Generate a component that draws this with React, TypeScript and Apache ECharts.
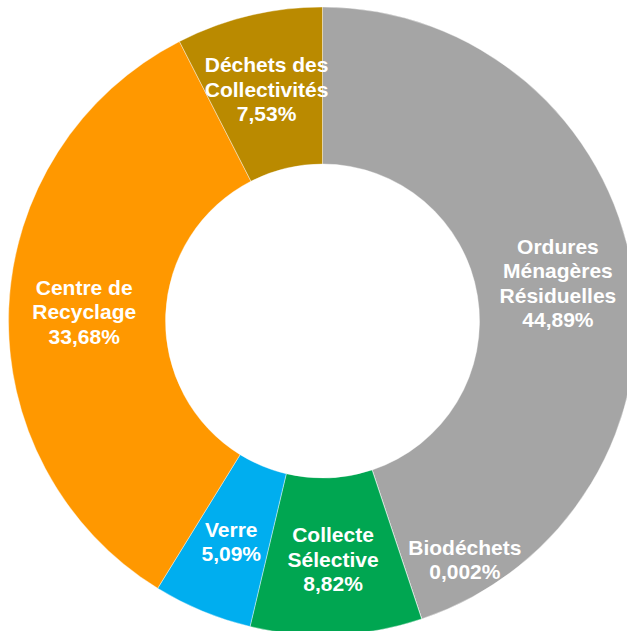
import React, { useEffect, useRef } from "react";
import * as echarts from "echarts";

const categories = [
  "Ordures\nMénagères\nRésiduelles",
  "Biodéchets",
  "Collecte\nSélective",
  "Verre",
  "Centre de\nRecyclage",
  "Déchets des\nCollectivités",
];
const values = [44.89, 0.002, 8.82, 5.09, 33.68, 7.53];
const colors = ["#A5A5A5", "#A5A5A5", "#00A651", "#00AEEF", "#FF9800", "#BA8A00"];

export default function App() {
  const ref = useRef<HTMLDivElement>(null);
  useEffect(() => {
    const chart = echarts.init(ref.current!, undefined, { renderer: "svg" });
    chart.setOption({
      animation: false,
      backgroundColor: "#ffffff",
      series: [
        {
          type: "pie",
          center: [322.5, 321],
          radius: [157, 314],
          startAngle: 90,
          clockwise: true,
          avoidLabelOverlap: false,
          itemStyle: { borderColor: "#ffffff", borderWidth: 0.4 },
          label: {
            show: true,
            position: "inside",
            color: "#ffffff",
            fontFamily: "Liberation Sans, Arial, sans-serif",
            fontWeight: "bold",
            fontSize: 21,
            lineHeight: 24.5,
            align: "center",
            formatter: (p: any) => `${p.name}\n${String(p.value).replace(".", ",")}%`,
          },
          labelLine: { show: false },
          emphasis: { disabled: true },
          data: categories.map((name, i) => ({
            name,
            value: values[i],
            itemStyle: { color: colors[i] },
            label: i === 1 ? { offset: [67, 12] } : undefined,
          })),
        },
      ],
    });
    return () => chart.dispose();
  }, []);
  return (
    <div
      ref={ref}
      style={{ position: "fixed", left: 0, top: 0, width: 627, height: 631 }}
    />
  );
}
